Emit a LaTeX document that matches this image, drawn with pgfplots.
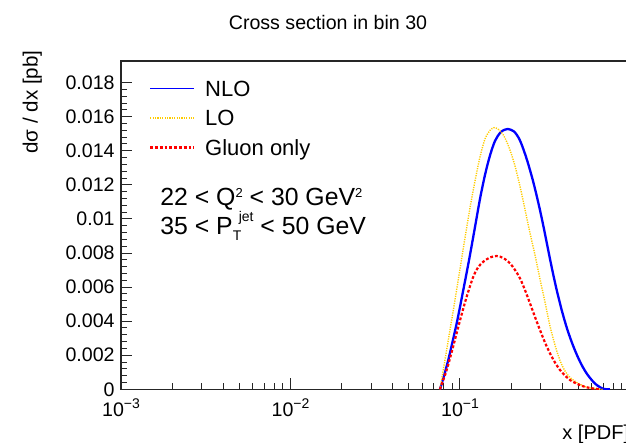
\documentclass[border=0pt]{standalone}
\usepackage{fontspec}
\setmainfont{Liberation Sans}
\usepackage{pgfplots}
\pgfplotsset{compat=1.18}
\definecolor{rootblue}{RGB}{0,0,255}
\definecolor{rootyellow}{RGB}{255,204,0}
\definecolor{rootred}{RGB}{255,0,0}
\newcommand\fs[1]{\fontsize{#1}{#1}\selectfont}
\newcommand\tenpow[1]{10\raisebox{4.2pt}{\fs{7}#1}}
\newcommand\sups[1]{\raisebox{4.3pt}{\fs{6.5}#1}}
\begin{document}
\begin{tikzpicture}
\begin{axis}[
  at={(0,0)}, anchor=south west, scale only axis,
  width=254.25pt, height=164.15pt,
  xmode=log, xmin=0.001, xmax=1, ymin=0, ymax=0.01927,
  axis line style={line width=0.6pt, black!85},
  tick style={line width=0.5pt, black!85},
  tick align=inside, xtick pos=left, ytick pos=left,
  major tick length=5.5pt, minor tick length=3pt,
  xtick={0.001,0.01,0.1},
  xticklabels={\tenpow{−3},\tenpow{−2},\tenpow{−1}},
  minor xtick={0.002,0.003,0.004,0.005,0.006,0.007,0.008,0.009,0.02,0.03,0.04,0.05,0.06,0.07,0.08,0.09,0.2,0.3,0.4,0.5,0.6,0.7,0.8,0.9},
  ytick={0,0.002,0.004,0.006,0.008,0.010,0.012,0.014,0.016,0.018},
  yticklabels={0,0.002,0.004,0.006,0.008,0.01,0.012,0.014,0.016,0.018},
  minor y tick num=4,
  scaled y ticks=false,
  xticklabel style={font=\fs{9.8}, anchor=base, inner sep=0pt, yshift=-13.85pt},
  yticklabel style={font=\fs{9.8}, anchor=east, inner sep=0pt, xshift=-3pt},
  legend style={draw=none, fill=none, at={(0.0551,0.9397)}, anchor=north west,
    inner sep=0pt, outer sep=0pt, row sep=6.95pt, column sep=5pt,
    font=\fs{11}, nodes={inner sep=0pt, text height=7.8pt, text depth=0pt}},
  legend cell align=left,
  legend image code/.code={\draw[#1] (0pt,0pt) -- (22pt,0pt);},
]
\addplot[rootblue, line width=1.15pt, smooth, legend image post style={line width=0.8pt}] coordinates {
(0.07621,0) (0.08044,0.000781) (0.08528,0.001720) (0.09032,0.002777)
(0.09562,0.003874) (0.1,0.004831) (0.10459,0.005829) (0.10953,0.006856)
(0.11455,0.007884) (0.12263,0.009527) (0.13122,0.011171) (0.14044,0.012580)
(0.15031,0.013725) (0.16087,0.014576) (0.17219,0.015045) (0.18180,0.015222)
(0.19116,0.015280) (0.20832,0.015134) (0.22594,0.014605) (0.24745,0.013519)
(0.27066,0.012169) (0.29364,0.010702) (0.31302,0.009410) (0.33180,0.008148)
(0.35134,0.006945) (0.37200,0.005829) (0.39811,0.004655) (0.42617,0.003628)
(0.45604,0.002777) (0.48823,0.002043) (0.52240,0.001426) (0.55915,0.000928)
(0.59840,0.000546) (0.64042,0.000252) (0.70040,0.00003) (0.76736,0)
};
\addlegendentry{NLO}
\addplot[rootyellow, line width=0.7pt, dash pattern=on 0.6pt off 0.6pt, smooth] coordinates {
(0.07621,0) (0.08154,0.001720) (0.08730,0.003481) (0.09344,0.005242)
(0.1,0.007062) (0.10703,0.008882) (0.11455,0.010643) (0.12263,0.012228)
(0.13122,0.013637) (0.14044,0.014693) (0.15031,0.015192) (0.15871,0.015357)
(0.16871,0.015251) (0.18008,0.014928) (0.19064,0.014429) (0.20184,0.013754)
(0.21116,0.013108) (0.22078,0.012345) (0.22987,0.011582) (0.23951,0.010760)
(0.24846,0.009997) (0.25880,0.009175) (0.27699,0.007884) (0.29645,0.006475)
(0.31729,0.005125) (0.33956,0.003716) (0.36350,0.002601) (0.38905,0.001691)
(0.41636,0.001074) (0.44571,0.000693) (0.48823,0.000399) (0.53393,0.000194)
(0.58473,0.000076) (0.64042,0.000018) (0.70040,0)
};
\addlegendentry{LO}
\addplot[rootred, line width=1.1pt, dash pattern=on 1.4pt off 1pt, smooth] coordinates {
(0.07621,0) (0.08345,0.001133) (0.09131,0.002542) (0.1,0.004039)
(0.10953,0.005436) (0.11981,0.006610) (0.12772,0.007150) (0.13723,0.007490)
(0.15031,0.007737) (0.16464,0.007825) (0.18008,0.007708) (0.19724,0.007397)
(0.21116,0.007003) (0.22594,0.006516) (0.24170,0.005829) (0.25880,0.005048)
(0.27699,0.004244) (0.29645,0.003481) (0.31729,0.002747) (0.33956,0.002113)
(0.36350,0.001573) (0.38905,0.001133) (0.41636,0.000810) (0.44571,0.000546)
(0.48823,0.000329) (0.53393,0.000176) (0.58473,0.000076) (0.66970,0)
};
\addlegendentry{Gluon only}
\end{axis}
\node[anchor=base, font=\fs{9.8}, inner sep=0pt] at (103.5pt,179.65pt) {Cross section in bin 30};
\node[rotate=90, anchor=base east, font=\fs{10.3}, inner sep=0pt] at (-41.75pt,169.65pt) {dσ / dx [pb]};
\node[anchor=base east, font=\fs{10}, inner sep=0pt] at (254.25pt,-25.35pt) {x [PDF]};
\node[anchor=base west, font=\fs{12.4}, inner sep=0pt] at (19.5pt,91.8pt) {22 < Q\sups{2} < 30 GeV\sups{2}};
\node[anchor=base west, font=\fs{12.4}, inner sep=0pt] at (19.5pt,77.15pt) {35 < P\rlap{\raisebox{-2.6pt}{\fs{7}T}}\hspace{3pt}\raisebox{6.8pt}{\fs{7}jet} < 50 GeV};
\pgfresetboundingbox
\path[use as bounding box] (-60.5pt,-26.85pt) rectangle (252.5pt,194.65pt);
\end{tikzpicture}
\end{document}
